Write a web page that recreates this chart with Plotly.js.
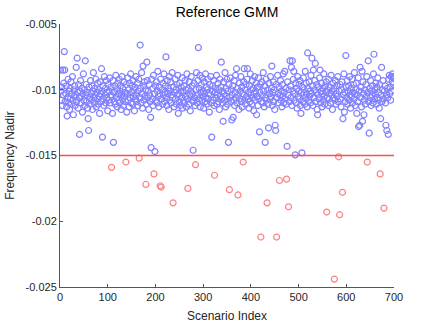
<!DOCTYPE html>
<html>
<head>
<meta charset="utf-8">
<script src="https://cdn.plot.ly/plotly-3.0.1.min.js"></script>
<style>
  html, body { margin: 0; padding: 0; background: #fff; }
  #chart { width: 436px; height: 327px; }
</style>
</head>
<body>
<div id="chart"></div>
<script>
// frequency nadir per scenario (index 1..700)
const nadir = [
  -0.0085, -0.0101, -0.0108, -0.0098, -0.0112, -0.0085, -0.0104, -0.0095, -0.0071, -0.0085, -0.0109, -0.0103, -0.0097, -0.0113, -0.0120, -0.0106, -0.0092, -0.0110, -0.0101, -0.0115,
  -0.0099, -0.0107, -0.0094, -0.0111, -0.0103, -0.0090, -0.0108, -0.0119, -0.0100, -0.0105, -0.0097, -0.0112, -0.0104, -0.0083, -0.0109, -0.0076, -0.0102, -0.0114, -0.0096, -0.0106,
  -0.0134, -0.0101, -0.0093, -0.0110, -0.0105, -0.0099, -0.0117, -0.0103, -0.0088, -0.0108, -0.0100, -0.0112, -0.0078, -0.0104, -0.0096, -0.0109, -0.0102, -0.0114, -0.0122, -0.0131,
  -0.0098, -0.0106, -0.0111, -0.0093, -0.0103, -0.0108, -0.0097, -0.0115, -0.0101, -0.0087, -0.0106, -0.0110, -0.0099, -0.0104, -0.0092, -0.0113, -0.0102, -0.0107, -0.0095, -0.0111,
  -0.0100, -0.0105, -0.0118, -0.0094, -0.0103, -0.0109, -0.0084, -0.0101, -0.0136, -0.0097, -0.0107, -0.0112, -0.0090, -0.0104, -0.0099, -0.0110, -0.0093, -0.0106, -0.0102, -0.0116,
  -0.0096, -0.0108, -0.0101, -0.0091, -0.0110, -0.0104, -0.0098, -0.0159, -0.0105, -0.0118, -0.0093, -0.0140, -0.0102, -0.0109, -0.0097, -0.0111, -0.0089, -0.0106, -0.0100, -0.0113,
  -0.0095, -0.0103, -0.0108, -0.0092, -0.0110, -0.0101, -0.0097, -0.0115, -0.0104, -0.0090, -0.0107, -0.0099, -0.0112, -0.0094, -0.0105, -0.0102, -0.0109, -0.0155, -0.0096, -0.0117,
  -0.0103, -0.0091, -0.0108, -0.0100, -0.0113, -0.0095, -0.0106, -0.0088, -0.0110, -0.0102, -0.0097, -0.0111, -0.0093, -0.0105, -0.0100, -0.0116, -0.0098, -0.0107, -0.0090, -0.0104,
  -0.0109, -0.0095, -0.0112, -0.0101, -0.0092, -0.0152, -0.0106, -0.0066, -0.0099, -0.0110, -0.0087, -0.0103, -0.0114, -0.0082, -0.0097, -0.0108, -0.0094, -0.0105, -0.0100, -0.0172,
  -0.0111, -0.0079, -0.0093, -0.0106, -0.0101, -0.0115, -0.0096, -0.0104, -0.0109, -0.0121, -0.0144, -0.0092, -0.0107, -0.0099, -0.0112, -0.0089, -0.0164, -0.0103, -0.0147, -0.0097,
  -0.0108, -0.0094, -0.0110, -0.0101, -0.0086, -0.0105, -0.0113, -0.0098, -0.0103, -0.0173, -0.0092, -0.0174, -0.0107, -0.0100, -0.0111, -0.0095, -0.0104, -0.0088, -0.0109, -0.0102,
  -0.0097, -0.0075, -0.0106, -0.0112, -0.0093, -0.0103, -0.0099, -0.0115, -0.0090, -0.0108, -0.0101, -0.0094, -0.0110, -0.0104, -0.0087, -0.0106, -0.0186, -0.0098, -0.0113, -0.0102,
  -0.0092, -0.0107, -0.0100, -0.0111, -0.0096, -0.0104, -0.0089, -0.0118, -0.0103, -0.0109, -0.0095, -0.0112, -0.0101, -0.0098, -0.0106, -0.0091, -0.0114, -0.0102, -0.0108, -0.0097,
  -0.0110, -0.0093, -0.0105, -0.0100, -0.0113, -0.0088, -0.0107, -0.0175, -0.0099, -0.0111, -0.0094, -0.0104, -0.0116, -0.0101, -0.0090, -0.0108, -0.0097, -0.0103, -0.0146, -0.0109,
  -0.0095, -0.0106, -0.0112, -0.0157, -0.0100, -0.0087, -0.0104, -0.0110, -0.0093, -0.0068, -0.0107, -0.0099, -0.0089, -0.0113, -0.0102, -0.0096, -0.0108, -0.0091, -0.0105, -0.0101,
  -0.0114, -0.0094, -0.0103, -0.0109, -0.0088, -0.0106, -0.0098, -0.0111, -0.0100, -0.0092, -0.0107, -0.0103, -0.0117, -0.0096, -0.0104, -0.0090, -0.0110, -0.0136, -0.0101, -0.0097,
  -0.0108, -0.0093, -0.0112, -0.0165, -0.0102, -0.0099, -0.0106, -0.0089, -0.0111, -0.0104, -0.0095, -0.0109, -0.0100, -0.0115, -0.0092, -0.0105, -0.0098, -0.0079, -0.0107, -0.0101,
  -0.0110, -0.0124, -0.0094, -0.0103, -0.0108, -0.0087, -0.0113, -0.0099, -0.0105, -0.0092, -0.0111, -0.0101, -0.0140, -0.0096, -0.0176, -0.0106, -0.0091, -0.0109, -0.0100, -0.0123,
  -0.0104, -0.0097, -0.0121, -0.0108, -0.0093, -0.0112, -0.0102, -0.0089, -0.0106, -0.0084, -0.0110, -0.0099, -0.0180, -0.0104, -0.0115, -0.0095, -0.0107, -0.0101, -0.0090, -0.0109,
  -0.0098, -0.0113, -0.0103, -0.0155, -0.0094, -0.0084, -0.0108, -0.0100, -0.0111, -0.0096, -0.0105, -0.0092, -0.0084, -0.0107, -0.0102, -0.0114, -0.0097, -0.0109, -0.0088, -0.0104,
  -0.0100, -0.0111, -0.0093, -0.0106, -0.0099, -0.0116, -0.0103, -0.0090, -0.0108, -0.0101, -0.0095, -0.0119, -0.0105, -0.0098, -0.0112, -0.0091, -0.0107, -0.0132, -0.0102, -0.0096,
  -0.0212, -0.0109, -0.0094, -0.0104, -0.0110, -0.0087, -0.0101, -0.0113, -0.0097, -0.0140, -0.0106, -0.0092, -0.0108, -0.0186, -0.0100, -0.0111, -0.0129, -0.0095, -0.0103, -0.0107,
  -0.0090, -0.0105, -0.0099, -0.0082, -0.0112, -0.0102, -0.0094, -0.0109, -0.0100, -0.0115, -0.0127, -0.0131, -0.0096, -0.0212, -0.0106, -0.0089, -0.0103, -0.0110, -0.0098, -0.0169,
  -0.0104, -0.0093, -0.0108, -0.0101, -0.0113, -0.0096, -0.0105, -0.0088, -0.0110, -0.0102, -0.0086, -0.0107, -0.0099, -0.0111, -0.0168, -0.0143, -0.0094, -0.0104, -0.0189, -0.0100,
  -0.0109, -0.0078, -0.0097, -0.0106, -0.0083, -0.0112, -0.0078, -0.0101, -0.0092, -0.0086, -0.0108, -0.0103, -0.01495, -0.0095, -0.0110, -0.0099, -0.0114, -0.0090, -0.0105, -0.0101,
  -0.0096, -0.0107, -0.0093, -0.0112, -0.0118, -0.0102, -0.0148, -0.0098, -0.0109, -0.0091, -0.0104, -0.0100, -0.0111, -0.0086, -0.0106, -0.0095, -0.0103, -0.0113, -0.0072, -0.0099,
  -0.0108, -0.0094, -0.0105, -0.0101, -0.0110, -0.0089, -0.0103, -0.0076, -0.0097, -0.0112, -0.0085, -0.0106, -0.0100, -0.0093, -0.0080, -0.0109, -0.0102, -0.0096, -0.0115, -0.0119,
  -0.0104, -0.0098, -0.0107, -0.0091, -0.0085, -0.0110, -0.0101, -0.0095, -0.0113, -0.0103, -0.0099, -0.0108, -0.0088, -0.0105, -0.0111, -0.0097, -0.0102, -0.0094, -0.0193, -0.0106,
  -0.0100, -0.0112, -0.0092, -0.0107, -0.0103, -0.0098, -0.0110, -0.0089, -0.0104, -0.0101, -0.0115, -0.0095, -0.0106, -0.0099, -0.0244, -0.0108, -0.0093, -0.0103, -0.0111, -0.0097,
  -0.0105, -0.0090, -0.0109, -0.0151, -0.0101, -0.0195, -0.0096, -0.0107, -0.0113, -0.0100, -0.0094, -0.0178, -0.0122, -0.0104, -0.0088, -0.0117, -0.0102, -0.0109, -0.0074, -0.0098,
  -0.0106, -0.0093, -0.0111, -0.0101, -0.0097, -0.0108, -0.0090, -0.0104, -0.0114, -0.0099, -0.0105, -0.0092, -0.0110, -0.0102, -0.0096, -0.0107, -0.0087, -0.0103, -0.0112, -0.0100,
  -0.0095, -0.0118, -0.0104, -0.0109, -0.0091, -0.0128, -0.0101, -0.0127, -0.0083, -0.0106, -0.0098, -0.0113, -0.0086, -0.0124, -0.0094, -0.0103, -0.0119, -0.0108, -0.0100, -0.0111,
  -0.0096, -0.0105, -0.0090, -0.0155, -0.0102, -0.0078, -0.0109, -0.0133, -0.0099, -0.0106, -0.0093, -0.0112, -0.0101, -0.0104, -0.0097, -0.0110, -0.0088, -0.0073, -0.0107, -0.0100,
  -0.0103, -0.0095, -0.0111, -0.0098, -0.0106, -0.0091, -0.0108, -0.0102, -0.0114, -0.0096, -0.0164, -0.0122, -0.0104, -0.0083, -0.0109, -0.0100, -0.0093, -0.0107, -0.0190, -0.0101,
  -0.0097, -0.0110, -0.0127, -0.0104, -0.0131, -0.0099, -0.0106, -0.0134, -0.0092, -0.0089, -0.0103, -0.0098, -0.0108, -0.0090, -0.0101, -0.0094, -0.0088, -0.0090, -0.0096, -0.0091
];

const threshold = -0.015;
const yTickVals = [-0.025, -0.02, -0.015, -0.01, -0.005];
const yTickText = ['-0.025', '-0.02', '-0.015', '-0.01', '-0.005'];
const xTickVals = [0, 100, 200, 300, 400, 500, 600, 700];

const okX = [], okY = [], badX = [], badY = [];
nadir.forEach((v, i) => {
    if (v < threshold) { badX.push(i + 1); badY.push(v); }
    else { okX.push(i + 1); okY.push(v); }
});

const markerStyle = (col) => ({
    symbol: 'circle-open',
    size: 6,
    color: col,
    line: { width: 1.2, color: col }
});

const traces = [
    { x: okX, y: okY, type: 'scatter', mode: 'markers', marker: markerStyle('rgb(128,128,255)'), hoverinfo: 'x+y' },
    { x: badX, y: badY, type: 'scatter', mode: 'markers', marker: markerStyle('rgb(255,128,128)'), hoverinfo: 'x+y' }
];

const axisCol = '#555';
const layout = {
    width: 436,
    height: 327,
    margin: { l: 60, r: 42, t: 24, b: 40 },
    paper_bgcolor: '#fff',
    plot_bgcolor: '#fff',
    showlegend: false,
    font: { family: 'Liberation Sans, Arial, sans-serif', size: 11, color: '#262626' },
    title: { text: 'Reference GMM', font: { size: 14, color: '#000' }, x: 0.5, xref: 'paper', y: 0.962, yanchor: 'middle' },
    xaxis: {
        range: [0, 700],
        tickvals: xTickVals,
        ticks: 'inside', ticklen: 3, tickcolor: axisCol,
        showline: true, linecolor: axisCol, linewidth: 1,
        showgrid: false, zeroline: false,
        title: { text: 'Scenario Index', font: { size: 12 }, standoff: 9 }
    },
    yaxis: {
        range: [-0.025, -0.005],
        tickvals: yTickVals,
        ticktext: yTickText,
        ticks: 'inside', ticklen: 3, tickcolor: axisCol,
        showline: true, linecolor: axisCol, linewidth: 1,
        showgrid: false, zeroline: false,
        title: { text: 'Frequency Nadir', font: { size: 12 }, standoff: 8 }
    },
    shapes: [{
        type: 'line', xref: 'paper', yref: 'y',
        x0: 0, x1: 1, y0: threshold, y1: threshold,
        line: { color: 'rgb(255,77,77)', width: 1.6 }
    }]
};

Plotly.newPlot('chart', traces, layout, { staticPlot: true });
</script>
</body>
</html>
